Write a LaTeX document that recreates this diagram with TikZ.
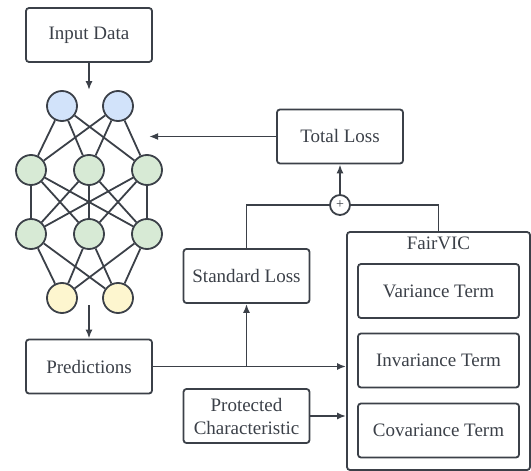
\documentclass[tikz,border=0pt]{standalone}
\usepackage{fontspec}
\setmainfont{Liberation Serif}
\usetikzlibrary{arrows.meta, positioning, fit, calc}

\definecolor{inkgray}{HTML}{3B4048}
\definecolor{inblue}{HTML}{D2E3FA}
\definecolor{hidgreen}{HTML}{D7EAD5}
\definecolor{outyellow}{HTML}{FDF6CF}

\begin{document}
\begin{tikzpicture}[
    x=1pt, y=-1pt,
    every node/.style={font=\fontsize{19}{23}\selectfont, text=inkgray},
    box/.style={
        rectangle,
        rounded corners=3pt,
        draw=inkgray,
        line width=1.8pt,
        align=center,
        minimum width=126pt,
        minimum height=54pt
    },
    termbox/.style={
        box,
        minimum width=161pt
    },
    neuron/.style={
        circle,
        draw=inkgray,
        line width=1.8pt,
        minimum size=30pt,
        inner sep=0pt
    },
    wire/.style={
        line width=1.8pt,
        draw=inkgray
    },
    arrow/.style={
        wire,
        -{Latex[length=9pt, width=7pt]}
    }
]
\useasboundingbox (0,0) rectangle (531,471);

% Input box
\node[box] (input) at (89,35) {Input Data};

% Network layers
\node[neuron, fill=inblue] (in1) at (62,106) {};
\node[neuron, fill=inblue] (in2) at (118,106) {};
\foreach \i/\x in {1/31, 2/89, 3/147} {
    \node[neuron, fill=hidgreen] (ha\i) at (\x,170) {};
    \node[neuron, fill=hidgreen] (hb\i) at (\x,234) {};
}
\node[neuron, fill=outyellow] (out1) at (62,298) {};
\node[neuron, fill=outyellow] (out2) at (118,298) {};

% Network connections
\foreach \a in {1,2} {
    \foreach \b in {1,2,3} {
        \draw[wire] (in\a) -- (ha\b);
        \draw[wire] (hb\b) -- (out\a);
    }
}
\foreach \a in {1,2,3} {
    \foreach \b in {1,2,3} {
        \draw[wire] (ha\a) -- (hb\b);
    }
}

% Predictions box
\node[box] (pred) at (89,366.5) {Predictions};

% Loss boxes
\node[box] (total) at (340,136.5) {Total Loss};
\node[box] (stdloss) at (246.5,276) {Standard Loss};
\node[box] (prot) at (246.5,416) {Protected\\Characteristic};
\node[circle, draw=inkgray, line width=1.8pt, minimum size=20pt, inner sep=0pt,
      font=\fontsize{14}{14}\selectfont] (plus) at (340,205) {+};

% FairVIC box
\node[box, minimum width=183pt, minimum height=238pt] (fairvic) at (438.5,351) {};
\node[anchor=north, inner sep=0pt] (fairtitle) at ([yshift=-6pt]fairvic.north) {FairVIC};
\node[termbox] (variance) at (438.5,291) {Variance Term};
\node[termbox] (invariance) at (438.5,360.5) {Invariance Term};
\node[termbox] (covariance) at (438.5,430.5) {Covariance Term};

% Flow arrows
\coordinate (netin) at (149,136.5);
\coordinate (netout) at (89,305);
\draw[arrow] (input) -- (input.south |- in1.north);
\draw[arrow] (netout) -- (pred.north);
\draw[arrow] (total.west) -- (netin);
\draw[arrow] (plus.north) -- (total.south);
\draw[wire] (stdloss.north) |- (plus.west);
\draw[wire] (fairvic.north) |- (plus.east);
\draw[arrow] (pred.east) -- (pred.east -| fairvic.west);
\draw[arrow] (pred.east -| stdloss.south) -- (stdloss.south);
\draw[arrow] (prot.east) -- (prot.east -| fairvic.west);

\end{tikzpicture}
\end{document}
